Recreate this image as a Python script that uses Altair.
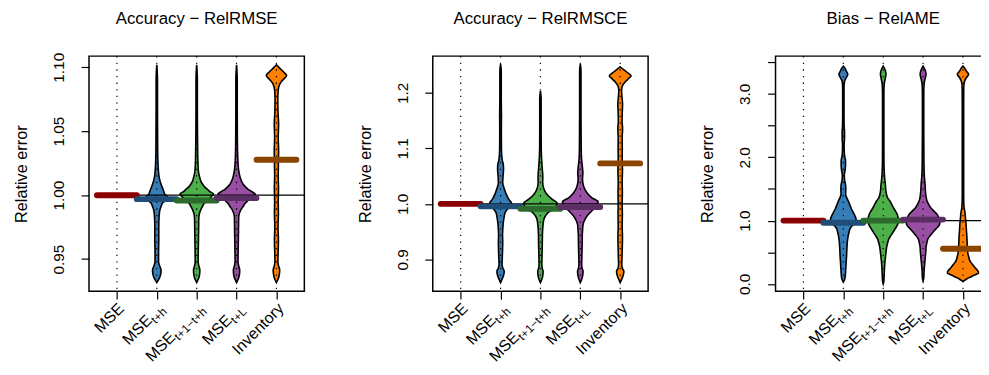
import altair as alt
import pandas as pd

FONT = "Liberation Sans"

# ---------------- categories ----------------
CATEGORIES = ["MSE", "MSE_t+h", "MSE_t+1-t+h", "MSE_t+L", "Inventory"]
CAT_POS = [1, 2, 3, 4, 5]
LABEL_MAIN = ["MSE", "MSE", "MSE", "MSE", "Inventory"]
LABEL_SUB = ["", "t+h", "t+1\u2212t+h", "t+L", ""]

FILL_COLORS = ["#E41A1C", "#377EB8", "#4DAF4A", "#984EA3", "#FF7F00"]
BAR_COLORS = ["#8B0000", "#1F4E79", "#2D6A2D", "#5B2E64", "#8B4500"]

PANEL_TITLES = ["Accuracy \u2212 RelRMSE", "Accuracy \u2212 RelRMSCE", "Bias \u2212 RelAME"]

# ---------------- thick centre bars ----------------
BARS_RELRMSE = [1.0, 0.9969, 0.9958, 0.9977, 1.0277]
BARS_RELRMSCE = [1.0, 0.9955, 0.9910, 0.9942, 1.0730]
BARS_RELAME = [1.0, 0.966, 1.000, 1.016, 0.556]

# ---------------- violin profiles (value, density) ----------------
# Panel 1: RelRMSE
P1_TH_Y = [0.9317, 0.935, 0.9385, 0.9415, 0.9445, 0.948, 0.955, 0.965, 0.975, 0.983, 0.988, 0.9915, 0.994, 0.9965, 0.9985, 1.0005, 1.003, 1.0055, 1.0085, 1.011, 1.0135, 1.0185, 1.025, 1.035, 1.05, 1.07, 1.09, 1.1019]
P1_TH_D = [0, 2.5, 4, 4.3, 3, 1.8, 1.8, 2, 2, 2.3, 3, 4.5, 6, 10, 11, 8.3, 7, 5.8, 4.3, 3.3, 2.5, 1.7, 1.2, 0.9, 0.8, 0.7, 0.7, 0]
P1_T1_Y = [0.9317, 0.935, 0.9385, 0.9415, 0.9445, 0.948, 0.955, 0.965, 0.975, 0.983, 0.988, 0.9915, 0.9935, 0.996, 0.999, 1.0007, 1.003, 1.0046, 1.0065, 1.0085, 1.011, 1.0135, 1.0185, 1.025, 1.035, 1.05, 1.07, 1.09, 1.1019]
P1_T1_D = [0, 2, 3, 3.2, 2.2, 1.5, 1.6, 1.8, 2, 2.2, 3.8, 6, 7.5, 11, 15, 17, 13, 10.8, 8, 6, 4.2, 3.2, 1.8, 1.3, 1.0, 0.8, 0.7, 0.7, 0]
P1_TL_Y = [0.9317, 0.935, 0.9385, 0.9415, 0.9445, 0.948, 0.955, 0.965, 0.975, 0.983, 0.988, 0.9915, 0.9935, 0.996, 0.999, 1.0007, 1.003, 1.0046, 1.0065, 1.0085, 1.011, 1.0135, 1.0185, 1.025, 1.035, 1.05, 1.07, 1.09, 1.1019]
P1_TL_D = [0, 2, 3, 3.2, 2.2, 1.5, 1.6, 1.8, 2, 2.2, 4, 7, 8.5, 12, 16, 19, 15, 11.7, 9, 6.7, 5, 3.8, 2.3, 1.5, 1.0, 0.8, 0.7, 0.7, 0]
P1_INV_Y = [0.9317, 0.935, 0.9385, 0.9415, 0.9445, 0.948, 0.955, 0.965, 0.975, 0.985, 0.995, 1.005, 1.015, 1.025, 1.035, 1.045, 1.055, 1.065, 1.075, 1.082, 1.087, 1.0905, 1.0935, 1.0965, 1.0995, 1.1019]
P1_INV_D = [0, 2, 3, 3.3, 2.2, 1.5, 1.7, 2, 1.6, 2, 1.8, 2.1, 1.8, 2, 2.2, 1.8, 2.2, 1.6, 1.4, 1.8, 3.5, 7, 10.3, 7, 3, 0]

# Panel 2: RelRMSCE
P2_TH_Y = [0.858, 0.866, 0.872, 0.878, 0.884, 0.89, 0.90, 0.915, 0.93, 0.945, 0.955, 0.965, 0.975, 0.985, 0.9925, 0.997, 1.0015, 1.0085, 1.017, 1.026, 1.038, 1.05, 1.062, 1.071, 1.08, 1.10, 1.13, 1.16, 1.19, 1.22, 1.24, 1.252]
P2_TH_D = [0, 2, 3.2, 3.7, 2.3, 1.5, 1.7, 2, 2.2, 2, 2.3, 2.7, 3.5, 4.8, 8, 12, 11, 8.2, 5.8, 4, 2.2, 2.5, 3, 2.8, 1.6, 0.9, 0.8, 0.9, 0.7, 0.7, 0.7, 0]
P2_T1_Y = [0.858, 0.866, 0.872, 0.878, 0.884, 0.89, 0.90, 0.915, 0.93, 0.945, 0.955, 0.965, 0.972, 0.979, 0.985, 0.99, 0.996, 1.001, 1.0085, 1.017, 1.026, 1.038, 1.05, 1.06, 1.075, 1.10, 1.13, 1.16, 1.19, 1.204]
P2_T1_D = [0, 1.8, 2.5, 2.7, 1.8, 1.4, 1.5, 1.7, 1.9, 2, 2.3, 2.8, 3.5, 5.3, 8.3, 13, 16, 17, 11.7, 6.7, 3.7, 2.3, 2.4, 2, 1.4, 0.8, 0.7, 0.7, 0.7, 0]
P2_TL_Y = [0.858, 0.866, 0.872, 0.878, 0.884, 0.89, 0.90, 0.915, 0.93, 0.945, 0.955, 0.963, 0.973, 0.982, 0.988, 0.994, 0.999, 1.0035, 1.011, 1.02, 1.032, 1.045, 1.056, 1.065, 1.08, 1.10, 1.13, 1.16, 1.19, 1.22, 1.24, 1.252]
P2_TL_D = [0, 1.8, 2.5, 2.8, 1.8, 1.4, 1.5, 1.7, 1.9, 2, 2.4, 2.8, 5, 8.7, 12, 15, 17, 18, 11.7, 6.7, 3.3, 2.2, 2.6, 2.2, 1.3, 0.9, 0.8, 0.7, 0.7, 0.7, 0.7, 0]
P2_INV_Y = [0.858, 0.866, 0.872, 0.878, 0.884, 0.89, 0.90, 0.92, 0.94, 0.96, 0.98, 1.0, 1.02, 1.04, 1.06, 1.08, 1.10, 1.12, 1.135, 1.15, 1.165, 1.18, 1.195, 1.205, 1.213, 1.22, 1.226, 1.231, 1.236, 1.242, 1.247]
P2_INV_D = [0, 2, 3.2, 3.7, 2.2, 1.6, 1.8, 2.1, 2.3, 2, 2.2, 2, 2.2, 2, 2.3, 2, 2.1, 2, 2.4, 1.9, 2.1, 2.4, 1.7, 1.4, 2.3, 5, 8.5, 11, 8, 3.5, 0]

# Panel 3: RelAME
P3_TH_Y = [0.03, 0.08, 0.15, 0.22, 0.3, 0.377, 0.45, 0.53, 0.6, 0.66, 0.72, 0.766, 0.82, 0.87, 0.92, 0.965, 1.01, 1.078, 1.13, 1.18, 1.25, 1.31, 1.37, 1.42, 1.5, 1.57, 1.65, 1.72, 1.8, 1.87, 1.95, 2.02, 2.1, 2.2, 2.3, 2.4, 2.5, 2.7, 2.9, 3.1, 3.2, 3.26, 3.31, 3.36, 3.41, 3.44]
P3_TH_D = [0, 1.5, 2.1, 2.4, 2.7, 3, 3.3, 3.5, 3.8, 4, 4.5, 5, 5.8, 6.7, 9, 13, 13, 11.7, 10, 8.3, 6.5, 5, 3.2, 2.3, 2.5, 2.2, 1.2, 1.0, 1.8, 2.2, 2.2, 1.3, 0.9, 0.8, 1.2, 1.2, 0.8, 0.7, 0.7, 0.7, 1.2, 3, 4.5, 3, 1.5, 0]
P3_T1_Y = [0.0, 0.05, 0.15, 0.3, 0.43, 0.52, 0.584, 0.65, 0.715, 0.77, 0.818, 0.87, 0.922, 0.96, 1.0, 1.05, 1.104, 1.16, 1.207, 1.26, 1.31, 1.36, 1.416, 1.5, 1.57, 1.65, 1.75, 1.9, 2.1, 2.4, 2.7, 3.0, 3.15, 3.24, 3.31, 3.38, 3.44]
P3_T1_D = [0, 0.7, 1.0, 1.5, 2.3, 3, 3.5, 4.5, 5.8, 8, 10, 12, 14, 15, 15.5, 15, 14, 12, 10.3, 8.5, 6.7, 4.5, 3.3, 2.5, 2.2, 1.6, 1.1, 0.8, 0.7, 0.7, 0.7, 0.7, 1.0, 2.0, 2.8, 2, 0]
P3_TL_Y = [0.05, 0.1, 0.2, 0.3, 0.43, 0.52, 0.58, 0.65, 0.715, 0.77, 0.818, 0.87, 0.922, 0.97, 1.02, 1.06, 1.10, 1.15, 1.207, 1.26, 1.31, 1.4, 1.5, 1.57, 1.7, 1.9, 2.1, 2.4, 2.7, 3.0, 3.15, 3.24, 3.31, 3.38, 3.44]
P3_TL_D = [0, 0.7, 1.0, 1.5, 2.3, 2.8, 3, 3.8, 5, 7.5, 10, 13, 16, 17, 16.5, 15.5, 14, 11, 7.5, 5.5, 4, 2.8, 2.2, 2.0, 1.3, 0.9, 0.8, 0.7, 0.7, 0.7, 1.0, 2.0, 3, 2, 0]
P3_INV_Y = [0.04, 0.07, 0.09, 0.11, 0.13, 0.15, 0.17, 0.195, 0.22, 0.26, 0.30, 0.34, 0.377, 0.43, 0.48, 0.56, 0.65, 0.74, 0.82, 0.896, 0.97, 1.05, 1.13, 1.21, 1.3, 1.45, 1.7, 2.0, 2.4, 2.8, 3.1, 3.2, 3.26, 3.31, 3.36, 3.41, 3.44]
P3_INV_D = [0, 3, 5, 8, 10, 13, 15.7, 15.5, 14.3, 12, 10, 8, 6.7, 5.8, 5, 4.5, 4.2, 4, 3.6, 3.3, 3, 2.5, 2, 1.1, 0.8, 0.7, 0.7, 0.7, 0.7, 0.7, 0.8, 1.6, 3.5, 5.8, 3.5, 1.6, 0]

# ---------------- layout / style ----------------
W, H = 218, 238
XDOM = [0.3, 5.7]
DENS_SCALE = 1 / 40.25          # category units per density unit
MAIN_SIZE = 16
TICK_SIZE = 15.5
SUB_SIZE = 12
TITLE_SIZE = 17
AXTITLE_SIZE = 16.5
TITLE_Y = -33
LABEL_Y = H + 15
LABEL_SHIFT = 3.3
CHAR_W = {"t": 0.278, "+": 0.584, "h": 0.556, "1": 0.556, "\u2212": 0.584, "L": 0.556}


def sub_width(s):
    return sum(CHAR_W.get(c, 0.556) for c in s) * SUB_SIZE


def violin_rows(idx, ys, dens):
    pos = CAT_POS[idx]
    return [
        {"cat": CATEGORIES[idx], "y": y, "left": pos - d * DENS_SCALE,
         "right": pos + d * DENS_SCALE, "fill": FILL_COLORS[idx]}
        for y, d in zip(ys, dens)
    ]


def make_panel(title, ydom, yticks, label_expr, violins, bars):
    xscale = alt.Scale(domain=XDOM, nice=False, zero=False)
    yscale = alt.Scale(domain=ydom, nice=False, zero=False)
    xax = alt.Axis(values=CAT_POS, labels=False, ticks=True, tickSize=8,
                   tickColor="black", tickWidth=1.2, domain=False, grid=False,
                   title=None)
    yax = alt.Axis(values=yticks, labelExpr=label_expr, labelAngle=270,
                   labelAlign="center", labelBaseline="alphabetic",
                   labelPadding=18, labelFont=FONT, labelFontSize=TICK_SIZE,
                   labelColor="black", labelOverlap=False, labelFlush=False,
                   tickSize=8, tickColor="black", tickWidth=1.2,
                   domain=False, grid=False, title="Relative error",
                   titleFont=FONT, titleFontSize=AXTITLE_SIZE,
                   titleFontWeight="normal", titleColor="black",
                   titlePadding=22.5)

    rows = []
    for idx, ys, dens in violins:
        rows += violin_rows(idx, ys, dens)
    vdf = pd.DataFrame(rows)

    vio = alt.Chart(vdf).mark_area(
        orient="horizontal", stroke="black", strokeWidth=1.6,
        interpolate="monotone", fillOpacity=1
    ).encode(
        y=alt.Y("y:Q", scale=yscale, axis=yax),
        x=alt.X("left:Q", scale=xscale, axis=xax),
        x2="right:Q",
        color=alt.Color("fill:N", scale=None),
        detail="cat:N",
    )

    pdf = pd.DataFrame({"pos": CAT_POS})
    dots = alt.Chart(pdf).mark_rule(
        color="black", strokeWidth=1.2, strokeDash=[1.3, 5.4]
    ).encode(
        x=alt.X("pos:Q", scale=xscale, axis=xax),
        y=alt.value(0), y2=alt.value(H),
    )

    hline = alt.Chart(pd.DataFrame({"v": [1.0]})).mark_rule(
        color="black", strokeWidth=1.3
    ).encode(
        y=alt.Y("v:Q", scale=yscale, axis=yax),
        x=alt.datum(1.0), x2=alt.value(W),
    )

    bdf = pd.DataFrame({
        "x1": [p - 0.5 for p in CAT_POS],
        "x2": [p + 0.5 for p in CAT_POS],
        "val": bars,
        "col": BAR_COLORS,
    })
    bar = alt.Chart(bdf).mark_rule(strokeWidth=6, strokeCap="round").encode(
        x=alt.X("x1:Q", scale=xscale, axis=xax),
        x2="x2:Q",
        y=alt.Y("val:Q", scale=yscale, axis=yax),
        color=alt.Color("col:N", scale=None),
    )

    ttl = alt.Chart(pd.DataFrame({"t": [title]})).mark_text(
        font=FONT, fontSize=TITLE_SIZE, align="center",
        baseline="alphabetic", color="black"
    ).encode(x=alt.value(W / 2), y=alt.value(TITLE_Y), text="t:N")

    layers = [vio, dots, hline, bar, ttl]
    ldf = pd.DataFrame({"pos": CAT_POS, "main": LABEL_MAIN, "sub": LABEL_SUB})
    for i in range(len(CAT_POS)):
        one = ldf.iloc[[i]]
        sw = sub_width(LABEL_SUB[i]) if LABEL_SUB[i] else 0
        layers.append(
            alt.Chart(one).mark_text(
                angle=315, align="right", baseline="middle",
                dx=LABEL_SHIFT - sw, dy=LABEL_SHIFT,
                font=FONT, fontSize=MAIN_SIZE, color="black"
            ).encode(
                x=alt.X("pos:Q", scale=xscale, axis=xax),
                y=alt.value(LABEL_Y), text="main:N",
            )
        )
    layers.append(
        alt.Chart(ldf[ldf["sub"] != ""]).mark_text(
            angle=315, align="right", baseline="middle",
            dx=LABEL_SHIFT, dy=LABEL_SHIFT + 5,
            font=FONT, fontSize=SUB_SIZE, color="black"
        ).encode(
            x=alt.X("pos:Q", scale=xscale, axis=xax),
            y=alt.value(LABEL_Y), text="sub:N",
        )
    )

    return alt.layer(*layers).properties(width=W, height=H)


p1 = make_panel(
    PANEL_TITLES[0], [0.9249, 1.1087], [0.95, 1.0, 1.05, 1.10],
    "format(datum.value, '.2f')",
    [(1, P1_TH_Y, P1_TH_D), (2, P1_T1_Y, P1_T1_D), (3, P1_TL_Y, P1_TL_D),
     (4, P1_INV_Y, P1_INV_D)],
    BARS_RELRMSE,
)
p2 = make_panel(
    PANEL_TITLES[1], [0.8424, 1.2665], [0.9, 1.0, 1.1, 1.2],
    "format(datum.value, '.1f')",
    [(1, P2_TH_Y, P2_TH_D), (2, P2_T1_Y, P2_T1_D), (3, P2_TL_Y, P2_TL_D),
     (4, P2_INV_Y, P2_INV_D)],
    BARS_RELRMSCE,
)
p3 = make_panel(
    PANEL_TITLES[2], [-0.115, 3.598], [0, 0.5, 1.0, 1.5, 2.0, 2.5, 3.0, 3.5],
    "datum.value % 1 === 0 ? format(datum.value, '.1f') : ''",
    [(1, P3_TH_Y, P3_TH_D), (2, P3_T1_Y, P3_T1_D), (3, P3_TL_Y, P3_TL_D),
     (4, P3_INV_Y, P3_INV_D)],
    BARS_RELAME,
)

right_pair = alt.hconcat(p2, p3, spacing=49)
chart = alt.hconcat(p1, right_pair, spacing=50).resolve_scale(
    x="independent", y="independent"
).configure_view(
    stroke="black", strokeWidth=1.5
).properties(
    padding={"left": 4, "top": -1.5, "right": -12, "bottom": 0}
)

chart.save("out.html", embed_options={"renderer": "svg", "actions": False})
